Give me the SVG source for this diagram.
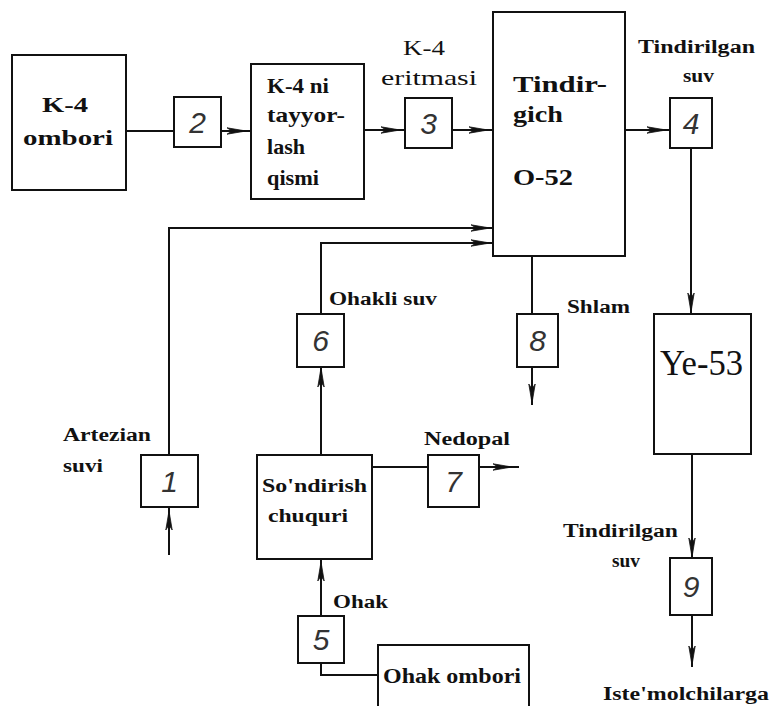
<svg xmlns="http://www.w3.org/2000/svg" xmlns:xlink="http://www.w3.org/1999/xlink" width="771" height="706" viewBox="0 0 771 706">
<style>
.box{fill:#fff;stroke:#111;stroke-width:2}
.ln{fill:none;stroke:#111;stroke-width:2}
.b{font-family:'Liberation Serif','Times New Roman','DejaVu Serif',serif;font-weight:bold;fill:#111}
.r{font-family:'Liberation Serif','Times New Roman','DejaVu Serif',serif;font-weight:normal;fill:#111}
.d{font-family:'Liberation Sans',sans-serif;font-style:italic;font-size:30px;fill:#333;text-anchor:middle}
</style>
<defs>
<path id="ah" d="M0,0 L-19,-3.2 L-14,0 L-19,3.2 Z" fill="#111" stroke="#111" stroke-width="0.8"/>
</defs>
<rect width="771" height="706" fill="#fff"/>
<g id="connectors">
<path class="ln" d="M126,131 H174"/>
<path class="ln" d="M221,131 H251"/>
<path class="ln" d="M364,130 H405"/>
<path class="ln" d="M452,130 H493"/>
<path class="ln" d="M625,130 H670"/>
<path class="ln" d="M691,148 V314"/>
<path class="ln" d="M169,455 V228 H493"/>
<path class="ln" d="M321,314 V243 H493"/>
<path class="ln" d="M532,256 V314"/>
<path class="ln" d="M532,367 V405"/>
<path class="ln" d="M692,454 V558"/>
<path class="ln" d="M692,615 V667"/>
<path class="ln" d="M169,507 V555"/>
<path class="ln" d="M321,367 V455"/>
<path class="ln" d="M372,467 H428"/>
<path class="ln" d="M479,467 H519"/>
<path class="ln" d="M321,559 V616"/>
<path class="ln" d="M321,663 V675 H378"/>
<use xlink:href="#ah" transform="translate(246,131)"/>
<use xlink:href="#ah" transform="translate(400,130)"/>
<use xlink:href="#ah" transform="translate(488,130)"/>
<use xlink:href="#ah" transform="translate(666,130)"/>
<use xlink:href="#ah" transform="translate(490,228)"/>
<use xlink:href="#ah" transform="translate(490,243)"/>
<use xlink:href="#ah" transform="translate(691,312) rotate(90)"/>
<use xlink:href="#ah" transform="translate(532,403) rotate(90)"/>
<use xlink:href="#ah" transform="translate(692,557) rotate(90)"/>
<use xlink:href="#ah" transform="translate(692,665) rotate(90)"/>
<use xlink:href="#ah" transform="translate(169,511) rotate(-90)"/>
<use xlink:href="#ah" transform="translate(321,368) rotate(-90)"/>
<use xlink:href="#ah" transform="translate(321,562) rotate(-90)"/>
<use xlink:href="#ah" transform="translate(512,467)"/>
</g>
<g id="k4-ombori">
<rect class="box" x="12" y="55" width="114" height="135"/>
<text class="b" x="42" y="112" font-size="22" textLength="46" lengthAdjust="spacingAndGlyphs">K-4</text>
<text class="b" x="23" y="145" font-size="22" textLength="90" lengthAdjust="spacingAndGlyphs">ombori</text>
</g>
<g id="n2"><rect class="box" x="174" y="97" width="47" height="50"/><text class="d" x="197.5" y="133">2</text></g>
<g id="k4-tayyorlash">
<rect class="box" x="251" y="64" width="113" height="135"/>
<text class="b" x="267" y="93" font-size="21" textLength="62" lengthAdjust="spacingAndGlyphs">K-4 ni</text>
<text class="b" x="267" y="122" font-size="21" textLength="78" lengthAdjust="spacingAndGlyphs">tayyor-</text>
<text class="b" x="267" y="154" font-size="21" textLength="38" lengthAdjust="spacingAndGlyphs">lash</text>
<text class="b" x="267" y="185" font-size="21" textLength="52" lengthAdjust="spacingAndGlyphs">qismi</text>
</g>
<g id="lbl-eritma">
<text class="r" x="403" y="55" font-size="21" textLength="42" lengthAdjust="spacingAndGlyphs">K-4</text>
<text class="r" x="381" y="85" font-size="21" textLength="96" lengthAdjust="spacingAndGlyphs">eritmasi</text>
</g>
<g id="n3"><rect class="box" x="405" y="98" width="47" height="50"/><text class="d" x="428.5" y="134">3</text></g>
<g id="tindirgich">
<rect class="box" x="493" y="12" width="132" height="244"/>
<text class="b" x="513" y="92" font-size="24" textLength="94" lengthAdjust="spacingAndGlyphs">Tindir-</text>
<text class="b" x="513" y="122" font-size="24" textLength="50" lengthAdjust="spacingAndGlyphs">gich</text>
<text class="b" x="513" y="185" font-size="24" textLength="60" lengthAdjust="spacingAndGlyphs">O-52</text>
</g>
<g id="lbl-tind1">
<text class="b" x="638" y="53" font-size="18" textLength="117" lengthAdjust="spacingAndGlyphs">Tindirilgan</text>
<text class="b" x="683" y="82" font-size="18" textLength="31" lengthAdjust="spacingAndGlyphs">suv</text>
</g>
<g id="n4"><rect class="box" x="670" y="98" width="42" height="50"/><text class="d" x="691" y="134">4</text></g>
<g id="n6"><rect class="box" x="297" y="314" width="47" height="53"/><text class="d" x="320.5" y="351">6</text></g>
<text class="b" x="329" y="305" font-size="18" textLength="108" lengthAdjust="spacingAndGlyphs">Ohakli suv</text>
<g id="n8"><rect class="box" x="517" y="314" width="41" height="53"/><text class="d" x="537.5" y="351">8</text></g>
<text class="b" x="567" y="313" font-size="18" textLength="63" lengthAdjust="spacingAndGlyphs">Shlam</text>
<g id="ye53">
<rect class="box" x="654" y="314" width="97" height="140"/>
<text class="r" x="660" y="375" font-size="35" textLength="83" lengthAdjust="spacingAndGlyphs">Ye-53</text>
</g>
<g id="lbl-tind2">
<text class="b" x="563" y="537" font-size="18" textLength="115" lengthAdjust="spacingAndGlyphs">Tindirilgan</text>
<text class="b" x="612" y="567" font-size="18" textLength="28" lengthAdjust="spacingAndGlyphs">suv</text>
</g>
<g id="n9"><rect class="box" x="670" y="558" width="42" height="57"/><text class="d" x="691" y="597">9</text></g>
<text class="b" x="603" y="700" font-size="18" textLength="166" lengthAdjust="spacingAndGlyphs">Iste'molchilarga</text>
<g id="n1"><rect class="box" x="141" y="455" width="57" height="52"/><text class="d" x="169.5" y="492">1</text></g>
<g id="lbl-artezian">
<text class="b" x="63" y="441" font-size="18" textLength="88" lengthAdjust="spacingAndGlyphs">Artezian</text>
<text class="b" x="63" y="472" font-size="18" textLength="40" lengthAdjust="spacingAndGlyphs">suvi</text>
</g>
<g id="sondirish">
<rect class="box" x="257" y="455" width="115" height="104"/>
<text class="b" x="262" y="492" font-size="19" textLength="105" lengthAdjust="spacingAndGlyphs">So'ndirish</text>
<text class="b" x="268" y="522" font-size="19" textLength="80" lengthAdjust="spacingAndGlyphs">chuquri</text>
</g>
<g id="n7"><rect class="box" x="428" y="455" width="51" height="52"/><text class="d" x="453.5" y="492">7</text></g>
<text class="b" x="424" y="445" font-size="18" textLength="86" lengthAdjust="spacingAndGlyphs">Nedopal</text>
<g id="n5"><rect class="box" x="298" y="616" width="46" height="47"/><text class="d" x="321" y="650">5</text></g>
<text class="b" x="333" y="608" font-size="18" textLength="55" lengthAdjust="spacingAndGlyphs">Ohak</text>
<g id="ohak-ombori">
<rect class="box" x="378" y="645" width="151" height="70"/>
<text class="b" x="383" y="683" font-size="20" textLength="138" lengthAdjust="spacingAndGlyphs">Ohak ombori</text>
</g>
</svg>
